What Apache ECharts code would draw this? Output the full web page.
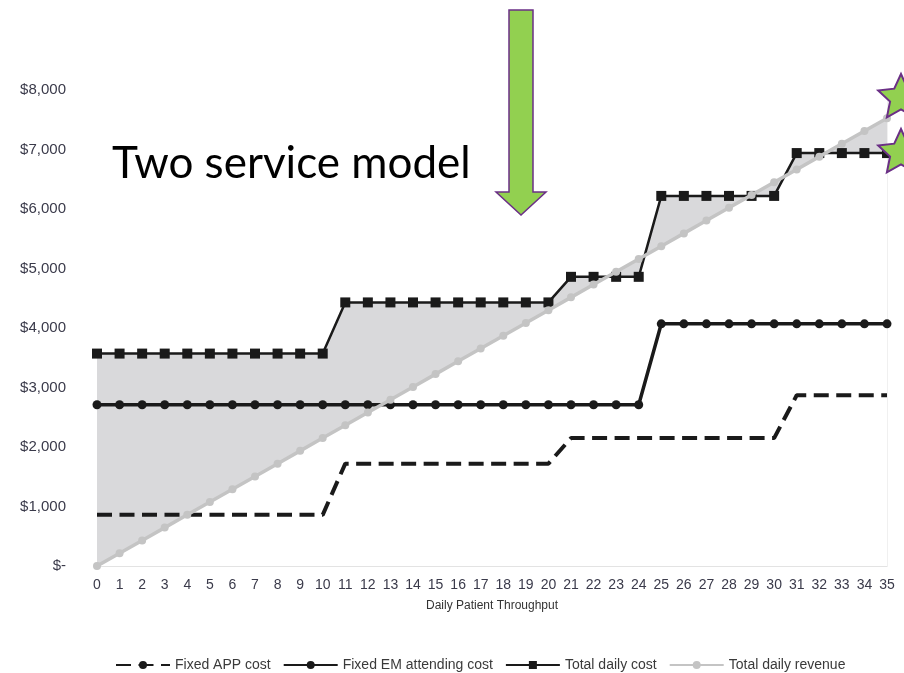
<!DOCTYPE html>
<html>
<head>
<meta charset="utf-8">
<script src="https://cdn.jsdelivr.net/npm/echarts@6/dist/echarts.min.js"></script>
<style>html,body{margin:0;padding:0;background:#fff;}#c{width:904px;height:673px;}</style>
</head>
<body>
<div id="c"></div>
<script>
var categories = ['0','1','2','3','4','5','6','7','8','9','10','11','12','13','14','15','16','17','18','19','20','21','22','23','24','25','26','27','28','29','30','31','32','33','34','35'];
var fixedAPP = [860,860,860,860,860,860,860,860,860,860,860,1720,1720,1720,1720,1720,1720,1720,1720,1720,1720,2150,2150,2150,2150,2150,2150,2150,2150,2150,2150,2870,2870,2870,2870,2870];
var fixedEM = [2710,2710,2710,2710,2710,2710,2710,2710,2710,2710,2710,2710,2710,2710,2710,2710,2710,2710,2710,2710,2710,2710,2710,2710,2710,4070,4070,4070,4070,4070,4070,4070,4070,4070,4070,4070];
var totalCost = [3570,3570,3570,3570,3570,3570,3570,3570,3570,3570,3570,4430,4430,4430,4430,4430,4430,4430,4430,4430,4430,4860,4860,4860,4860,6220,6220,6220,6220,6220,6220,6940,6940,6940,6940,6940];
var totalRevenue = [0,215,430,645,860,1075,1290,1505,1720,1935,2150,2365,2580,2795,3010,3225,3440,3655,3870,4085,4300,4515,4730,4945,5160,5375,5590,5805,6020,6235,6450,6665,6880,7095,7310,7525];
var seriesNames = ['Fixed APP cost','Fixed EM attending cost','Total daily cost','Total daily revenue'];
var yTicks = [0,1000,2000,3000,4000,5000,6000,7000,8000];

var chart = echarts.init(document.getElementById('c'), null, {renderer:'canvas'});

function starPoints(cx, cy, R, r) {
  var pts = [];
  for (var k = 0; k < 10; k++) {
    var rad = (k % 2 === 0) ? R : r;
    var a = -Math.PI / 2 + k * Math.PI / 5;
    pts.push([cx + rad * Math.cos(a), cy + rad * Math.sin(a)]);
  }
  return pts;
}

var fillData = categories.map(function(c, i){ return [i, totalCost[i], totalRevenue[i]]; });

var option = {
  animation: false,
  backgroundColor: '#ffffff',
  grid: {left: 97, right: 17, top: 90, bottom: 107, containLabel: false},
  legend: {
    data: seriesNames,
    left: 110,
    top: 653,
    itemWidth: 54,
    itemHeight: 10,
    itemGap: 12,
    textStyle: {fontFamily: 'Liberation Sans Narrow, Liberation Sans', fontSize: 14, color: '#3a3a3a'}
  },
  xAxis: {
    type: 'category',
    data: categories,
    boundaryGap: false,
    name: 'Daily Patient Throughput',
    nameLocation: 'middle',
    nameGap: 34,
    nameTextStyle: {fontFamily: 'Liberation Sans Narrow, Liberation Sans', fontSize: 12, color: '#333'},
    axisLine: {show: true, lineStyle: {color: '#e3e3e3', width: 1}},
    axisTick: {show: false},
    axisLabel: {interval: 0, margin: 12, fontFamily: 'Liberation Sans', fontSize: 14, color: '#3a3a4a'},
    splitLine: {show: false}
  },
  yAxis: [{
    type: 'value',
    min: 0,
    max: yTicks[yTicks.length - 1],
    interval: 1000,
    axisLine: {show: false},
    axisTick: {show: false},
    splitLine: {show: false},
    axisLabel: {
      margin: 31,
      fontFamily: 'Liberation Sans',
      fontSize: 15,
      color: '#3a3a4a',
      formatter: function(v){ return v === 0 ? '$-' : '$' + v.toLocaleString('en-US'); }
    }
  },{
    type: 'value',
    position: 'right',
    min: 0,
    max: yTicks[yTicks.length - 1],
    interval: 1000,
    axisLine: {show: true, lineStyle: {color: '#f0f0f0', width: 1}},
    axisTick: {show: false},
    axisLabel: {show: false},
    splitLine: {show: false}
  }],
  series: [
    {
      name: '__fill',
      type: 'custom',
      silent: true,
      z: 1,
      data: fillData,
      encode: {x: 0, y: [1, 2]},
      renderItem: function(params, api) {
        if (params.dataIndex !== 0) return null;
        var pts = [];
        for (var i = 0; i < fillData.length; i++) pts.push(api.coord([i, fillData[i][1]]));
        for (var j = fillData.length - 1; j >= 0; j--) pts.push(api.coord([j, fillData[j][2]]));
        return {type: 'polygon', shape: {points: pts}, style: {fill: '#d9d9db', stroke: null}};
      }
    },
    {
      name: seriesNames[0],
      type: 'line',
      z: 3,
      data: fixedAPP,
      symbol: 'none',
      color: '#1a1a1a',
      lineStyle: {color: '#1a1a1a', width: 4, type: [15, 7.5]}
    },
    {
      name: seriesNames[1],
      type: 'line',
      z: 4,
      data: fixedEM,
      symbol: 'circle',
      symbolSize: 9,
      color: '#1a1a1a',
      itemStyle: {color: '#1a1a1a'},
      lineStyle: {color: '#1a1a1a', width: 3.5}
    },
    {
      name: seriesNames[2],
      type: 'line',
      z: 5,
      data: totalCost,
      symbol: 'rect',
      symbolSize: 10,
      color: '#1a1a1a',
      itemStyle: {color: '#1a1a1a'},
      lineStyle: {color: '#1a1a1a', width: 2.5}
    },
    {
      name: seriesNames[3],
      type: 'line',
      z: 6,
      data: totalRevenue,
      symbol: 'circle',
      symbolSize: 8,
      color: '#c4c4c4',
      itemStyle: {color: '#c4c4c4'},
      lineStyle: {color: '#c4c4c4', width: 3.5}
    }
  ],
  graphic: [
    {
      type: 'text',
      z: 100,
      style: {
        text: 'Two service model',
        x: 112,
        y: 186,
        font: '44px Lato, "Open Sans", sans-serif',
        fill: '#000',
        textAlign: 'left',
        textVerticalAlign: 'bottom'
      }
    },
    {
      type: 'polygon',
      z: 100,
      shape: {points: [[509,10],[533,10],[533,192],[546,192],[521,215],[496,192],[509,192]]},
      style: {fill: '#92d050', stroke: '#6b2f86', lineWidth: 1.5}
    },
    {
      type: 'polygon',
      z: 100,
      shape: {points: starPoints(901, 98, 24, 11.5)},
      style: {fill: '#92d050', stroke: '#6b2f86', lineWidth: 2}
    },
    {
      type: 'polygon',
      z: 100,
      shape: {points: starPoints(901, 153, 24, 11.5)},
      style: {fill: '#92d050', stroke: '#6b2f86', lineWidth: 2}
    }
  ]
};
chart.setOption(option);
</script>
</body>
</html>
